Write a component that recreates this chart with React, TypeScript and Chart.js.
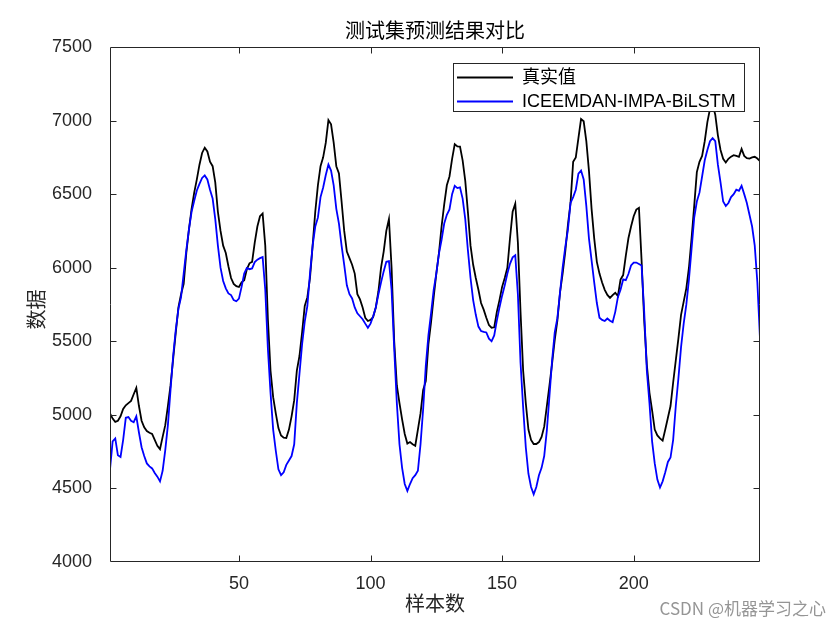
import React, { useEffect, useRef } from "react";
import { Chart, registerables } from "chart.js";

Chart.register(...registerables);

const chartTitle = "测试集预测结果对比";
const xAxisTitle = "样本数";
const yAxisTitle = "数据";
const seriesNames = ["真实值", "ICEEMDAN-IMPA-BiLSTM"];
const seriesColors = ["#000000", "#0000FF"];
const watermarkText = "CSDN @机器学习之心";

const xMin = 1;
const xMax = 248;
const yMin = 4000;
const yMax = 7500;
const xTickValues = [50, 100, 150, 200];
const yTickValues = [4000, 4500, 5000, 5500, 6000, 6500, 7000, 7500];

const trueValues = [
  5010, 4975, 4952, 4960, 4990, 5040, 5065, 5080, 5095, 5140,
  5183, 5060, 4960, 4915, 4890, 4878, 4870, 4830, 4790, 4767,
  4850, 4930, 5060, 5200, 5380, 5560, 5730, 5820, 5890, 6100,
  6260, 6400, 6510, 6600, 6700, 6780, 6816, 6790, 6720, 6690,
  6580, 6380, 6250, 6150, 6100, 6010, 5930, 5890, 5875, 5869,
  5900, 5915, 5990, 6030, 6040, 6170, 6280, 6350, 6368, 6150,
  5650, 5300, 5120, 5010, 4910, 4860, 4845, 4843, 4900, 4990,
  5100, 5300, 5400, 5560, 5740, 5800, 5930, 6150, 6380, 6560,
  6690, 6750, 6850, 7003, 6975, 6850, 6690, 6640, 6450, 6250,
  6110, 6065, 6020, 5960, 5820, 5785, 5730, 5660, 5638, 5645,
  5665, 5730, 5840, 6000, 6110, 6250, 6331, 6000, 5500, 5200,
  5080, 4970, 4870, 4805, 4815, 4800, 4790, 4900, 5010, 5170,
  5229, 5480, 5630, 5800, 5960, 6100, 6280, 6430, 6560, 6620,
  6740, 6840, 6825, 6823, 6730, 6590, 6380, 6150, 6020, 5930,
  5850, 5760, 5715, 5660, 5610, 5592, 5595, 5700, 5780, 5870,
  5930, 6000, 6200, 6380, 6435, 6170, 5700, 5300, 5080, 4900,
  4830, 4802, 4802, 4815, 4850, 4920, 5060, 5200, 5350, 5510,
  5640, 5830, 5960, 6110, 6290, 6440, 6720, 6750, 6880, 7010,
  6995, 6860, 6660, 6400, 6200, 6040, 5960, 5900, 5850, 5815,
  5795, 5814, 5830, 5807, 5920, 5950, 6080, 6200, 6280, 6350,
  6395, 6407, 6050, 5640, 5340, 5150, 5030, 4900, 4860, 4840,
  4825, 4900, 4980, 5060, 5220, 5370, 5520, 5680, 5770, 5860,
  6000, 6200, 6420, 6650, 6720, 6760, 6860, 6990, 7080, 7110,
  7040, 6900, 6800, 6740, 6715, 6740, 6755, 6765, 6760, 6754,
  6807, 6760, 6745, 6742, 6750, 6754, 6742, 6724,
];

const predValues = [
  4629, 4820, 4840, 4725, 4714, 4830, 4980, 4985, 4960, 4950,
  4990, 4880, 4780, 4720, 4670, 4650, 4636, 4605, 4580, 4548,
  4620, 4760, 4930, 5170, 5400, 5580, 5720, 5800, 5960, 6120,
  6260, 6380, 6454, 6525, 6570, 6610, 6627, 6600, 6530, 6470,
  6330, 6150, 6000, 5910, 5860, 5825, 5814, 5780, 5772, 5790,
  5870, 5960, 5998, 5990, 5995, 6038, 6055, 6065, 6072, 5850,
  5450, 5150, 4900, 4756, 4630, 4590, 4610, 4660, 4690, 4720,
  4800, 5080, 5280, 5480, 5634, 5740, 5960, 6150, 6280, 6340,
  6480, 6545, 6630, 6701, 6660, 6560, 6400, 6300, 6150, 6020,
  5880, 5820, 5791, 5730, 5690, 5670, 5650, 5620, 5592, 5620,
  5670, 5730, 5820, 5900, 5975, 6040, 6045, 5850, 5450, 5080,
  4800, 4640, 4530, 4483, 4530, 4570, 4590, 4620, 4800, 5040,
  5333, 5540, 5690, 5850, 5960, 6096, 6190, 6300, 6360, 6396,
  6500, 6557, 6541, 6546, 6470, 6330, 6120, 5930, 5780, 5680,
  5600, 5570, 5564, 5560, 5518, 5500, 5540, 5640, 5730, 5810,
  5880, 5960, 6026, 6070, 6084, 5818, 5356, 5050, 4780, 4600,
  4510, 4460, 4510, 4590, 4640, 4720, 4894, 5130, 5370, 5560,
  5657, 5830, 6000, 6140, 6257, 6440, 6480, 6530, 6640, 6660,
  6600, 6420, 6200, 6050, 5900, 5760, 5660, 5645, 5638, 5655,
  5640, 5630, 5700, 5800, 5850, 5920, 5915, 5957, 6015, 6035,
  6035, 6025, 6015, 5700, 5300, 5079, 4820, 4670, 4560, 4506,
  4548, 4610, 4680, 4710, 4830, 5060, 5250, 5460, 5620, 5749,
  5920, 6130, 6340, 6450, 6510, 6620, 6730, 6800, 6860, 6881,
  6860, 6700, 6580, 6450, 6419, 6440, 6480, 6500, 6530, 6523,
  6557, 6500, 6440, 6360, 6280, 6150, 5900, 5518,
];

const AXIS_COLOR = "#262626";
const LATIN_FONT = "'Liberation Sans', Arial, 'Noto Sans CJK SC', sans-serif";
const CJK_FONT = "'Noto Sans CJK SC', 'Liberation Sans', sans-serif";

const matlabDecor = {
  id: "matlabDecor",
  afterDatasetsDraw(chart: any) {
    const { ctx, chartArea: a, scales } = chart;
    const xs = scales.x;
    const ys = scales.y;
    ctx.save();

    // axes box
    ctx.strokeStyle = AXIS_COLOR;
    ctx.lineWidth = 1;
    const L = Math.round(a.left) + 0.5;
    const R = Math.round(a.right) - 0.5;
    const T = Math.round(a.top) + 0.5;
    const B = Math.round(a.bottom) - 0.5;
    ctx.beginPath();
    ctx.rect(L, T, R - L, B - T);
    ctx.stroke();

    // inward tick marks on all four sides
    const tickLen = 6;
    ctx.beginPath();
    xTickValues.forEach((v) => {
      if (v <= xMin || v >= xMax) return;
      const px = Math.round(xs.getPixelForValue(v)) + 0.5;
      ctx.moveTo(px, B);
      ctx.lineTo(px, B - tickLen);
      ctx.moveTo(px, T);
      ctx.lineTo(px, T + tickLen);
    });
    yTickValues.forEach((v) => {
      if (v <= yMin || v >= yMax) return;
      const py = Math.round(ys.getPixelForValue(v)) + 0.5;
      ctx.moveTo(L, py);
      ctx.lineTo(L + tickLen, py);
      ctx.moveTo(R, py);
      ctx.lineTo(R - tickLen, py);
    });
    ctx.stroke();

    // legend
    const boxW = 291;
    const boxH = 48;
    const boxR = Math.round(a.right) - 16;
    const boxL = boxR - boxW;
    const boxT = Math.round(a.top) + 16;
    ctx.fillStyle = "#ffffff";
    ctx.fillRect(boxL, boxT, boxW, boxH);
    ctx.strokeStyle = AXIS_COLOR;
    ctx.lineWidth = 1;
    ctx.strokeRect(boxL + 0.5, boxT + 0.5, boxW, boxH);
    ctx.font = `18px ${LATIN_FONT}`;
    ctx.textAlign = "left";
    ctx.textBaseline = "middle";
    seriesNames.forEach((name, i) => {
      const ly = boxT + 14.5 + i * 24;
      ctx.strokeStyle = seriesColors[i];
      ctx.lineWidth = 2;
      ctx.beginPath();
      ctx.moveTo(boxL + 4, ly);
      ctx.lineTo(boxL + 60, ly);
      ctx.stroke();
      ctx.fillStyle = "#000000";
      ctx.fillText(name, boxL + 69, ly + 1);
    });

    // title
    const cx = (a.left + a.right) / 2;
    ctx.fillStyle = "#000000";
    ctx.textAlign = "center";
    ctx.textBaseline = "middle";
    ctx.font = `20px ${CJK_FONT}`;
    ctx.fillText(chartTitle, cx, a.top - 17);

    // axis titles
    ctx.fillStyle = AXIS_COLOR;
    ctx.font = `20px ${CJK_FONT}`;
    ctx.fillText(xAxisTitle, cx, a.bottom + 41);
    ctx.save();
    ctx.translate(36, (a.top + a.bottom) / 2 + 5);
    ctx.rotate(-Math.PI / 2);
    ctx.fillText(yAxisTitle, 0, 0);
    ctx.restore();

    // watermark
    ctx.font = `17px ${CJK_FONT}`;
    ctx.textAlign = "right";
    ctx.fillStyle = "rgba(130,130,130,0.85)";
    ctx.fillText(watermarkText, 826, 609);

    ctx.restore();
  },
};

export default function App() {
  const canvasRef = useRef<HTMLCanvasElement | null>(null);

  useEffect(() => {
    const canvas = canvasRef.current;
    if (!canvas) return;
    const chart = new Chart(canvas, {
      type: "line",
      data: {
        datasets: [
          {
            label: seriesNames[0],
            data: trueValues.map((y, i) => ({ x: i + 1, y })),
            borderColor: seriesColors[0],
            backgroundColor: seriesColors[0],
            borderWidth: 1.8,
            pointRadius: 0,
            tension: 0,
            fill: false,
            order: 2,
          },
          {
            label: seriesNames[1],
            data: predValues.map((y, i) => ({ x: i + 1, y })),
            borderColor: seriesColors[1],
            backgroundColor: seriesColors[1],
            borderWidth: 1.8,
            pointRadius: 0,
            tension: 0,
            fill: false,
            order: 1,
          },
        ],
      },
      options: {
        animation: false,
        responsive: false,
        devicePixelRatio: 1,
        events: [],
        layout: { padding: { top: 47, right: 80, bottom: 0, left: 0 } },
        plugins: {
          legend: { display: false },
          title: { display: false },
          tooltip: { enabled: false },
        },
        scales: {
          x: {
            type: "linear",
            min: xMin,
            max: xMax,
            grid: { display: false },
            border: { display: false },
            ticks: {
              color: AXIS_COLOR,
              font: { family: LATIN_FONT, size: 18 },
              padding: 3,
              maxRotation: 0,
              callback: (v: any) => String(v),
            },
            afterBuildTicks: (s: any) => {
              s.ticks = xTickValues.map((v) => ({ value: v }));
            },
            afterFit: (s: any) => {
              s.height = 68;
            },
          },
          y: {
            type: "linear",
            min: yMin,
            max: yMax,
            grid: { display: false },
            border: { display: false },
            ticks: {
              color: AXIS_COLOR,
              font: { family: LATIN_FONT, size: 18 },
              padding: 10,
              callback: (v: any) => String(v),
            },
            afterBuildTicks: (s: any) => {
              s.ticks = yTickValues.map((v) => ({ value: v }));
            },
            afterFit: (s: any) => {
              s.width = 110;
            },
          },
        },
      },
      plugins: [matlabDecor],
    });
    return () => chart.destroy();
  }, []);

  return (
    <div
      style={{
        position: "fixed",
        left: 0,
        top: 0,
        width: 840,
        height: 630,
        background: "#ffffff",
      }}
    >
      <canvas ref={canvasRef} width={840} height={630} style={{ display: "block" }} />
    </div>
  );
}
